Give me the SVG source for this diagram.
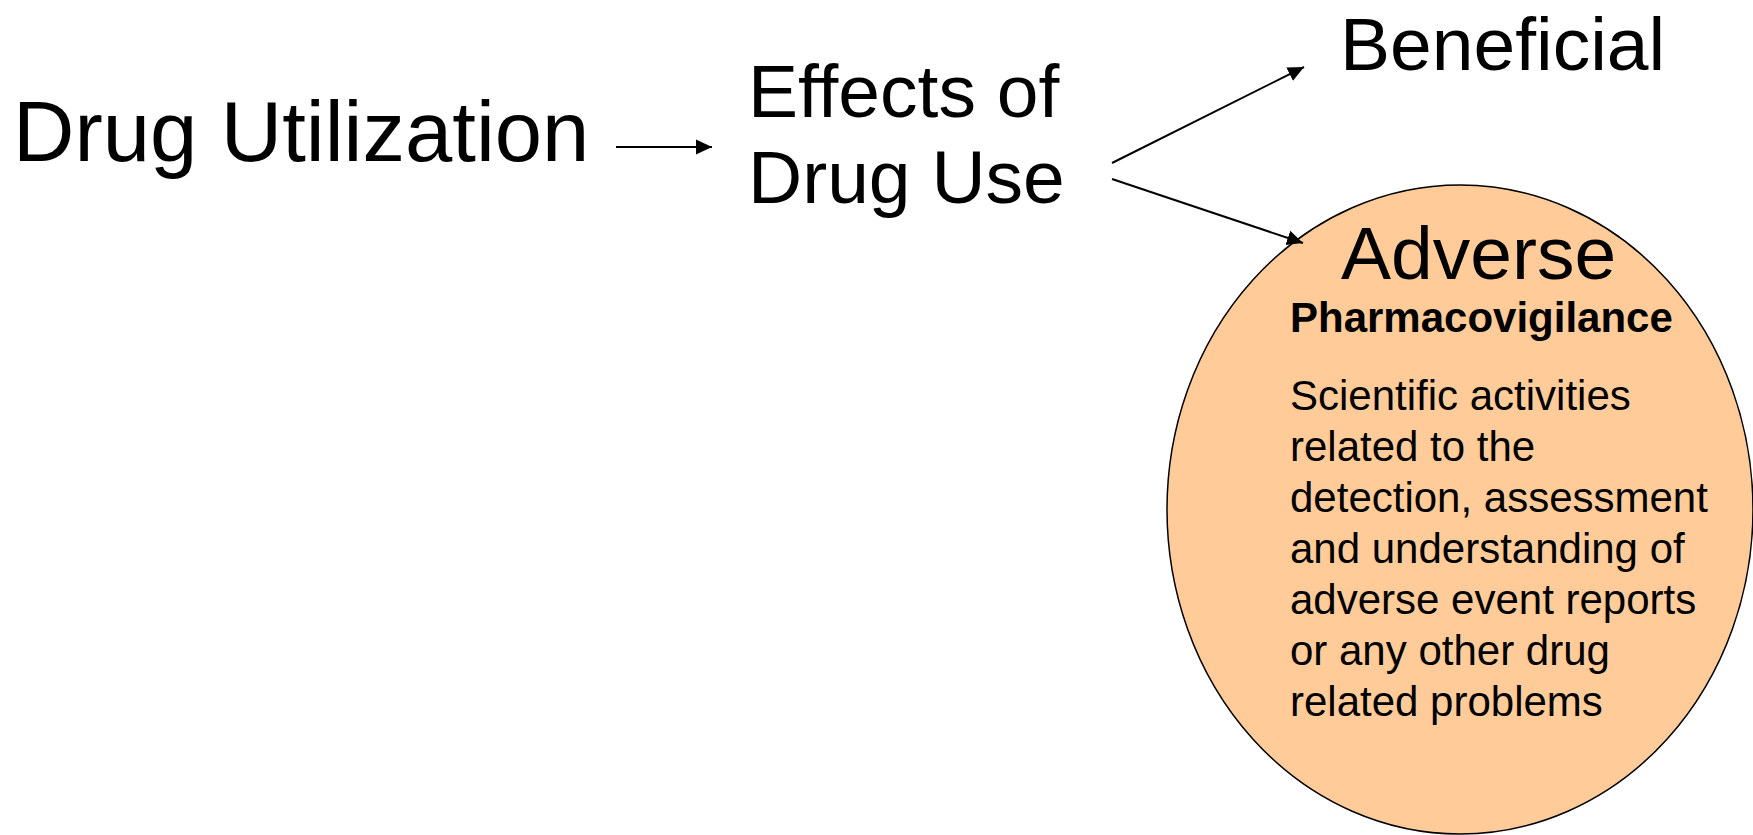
<svg xmlns="http://www.w3.org/2000/svg" width="1753" height="835" viewBox="0 0 1753 835">
  <style>
    .t { font-family: "Liberation Sans", Arial, sans-serif; fill: #000; }
    .big { font-size: 85px; }
    .mid { font-size: 75px; }
    .bold { font-size: 42px; font-weight: bold; }
    .body { font-size: 42px; }
    .conn { stroke: #000; stroke-width: 2; fill: none; }
  </style>
  <defs>
    <marker id="arr" markerUnits="userSpaceOnUse" markerWidth="16" markerHeight="16" viewBox="0 0 16 16" refX="16" refY="8" orient="auto">
      <path d="M0,0.5 L16,8 L0,15.5 Z" fill="#000"/>
    </marker>
  </defs>
  <rect width="1753" height="835" fill="#fff"/>
  <g id="node-adverse">
    <ellipse cx="1460" cy="509.5" rx="293" ry="324.5" fill="#FFCC99" stroke="#000" stroke-width="1.5"/>
    <text class="t mid" x="1341" y="279">Adverse</text>
    <text class="t bold" x="1290" y="332">Pharmacovigilance</text>
    <text class="t body" x="1290" y="410">Scientific activities</text>
    <text class="t body" x="1290" y="461">related to the</text>
    <text class="t body" x="1290" y="512">detection, assessment</text>
    <text class="t body" x="1290" y="563">and understanding of</text>
    <text class="t body" x="1290" y="614">adverse event reports</text>
    <text class="t body" x="1290" y="665">or any other drug</text>
    <text class="t body" x="1290" y="716">related problems</text>
  </g>
  <g id="node-drug-utilization">
    <text class="t big" x="13" y="161">Drug Utilization</text>
  </g>
  <g id="node-effects">
    <text class="t mid" x="748" y="117">Effects of</text>
    <text class="t mid" x="748" y="203">Drug Use</text>
  </g>
  <g id="node-beneficial">
    <text class="t mid" x="1340" y="70">Beneficial</text>
  </g>
  <g id="connectors">
    <line class="conn" x1="616" y1="147" x2="712" y2="147" marker-end="url(#arr)"/>
    <line class="conn" x1="1112" y1="163" x2="1304" y2="67" marker-end="url(#arr)"/>
    <line class="conn" x1="1112" y1="179" x2="1303" y2="243" marker-end="url(#arr)"/>
  </g>
</svg>
